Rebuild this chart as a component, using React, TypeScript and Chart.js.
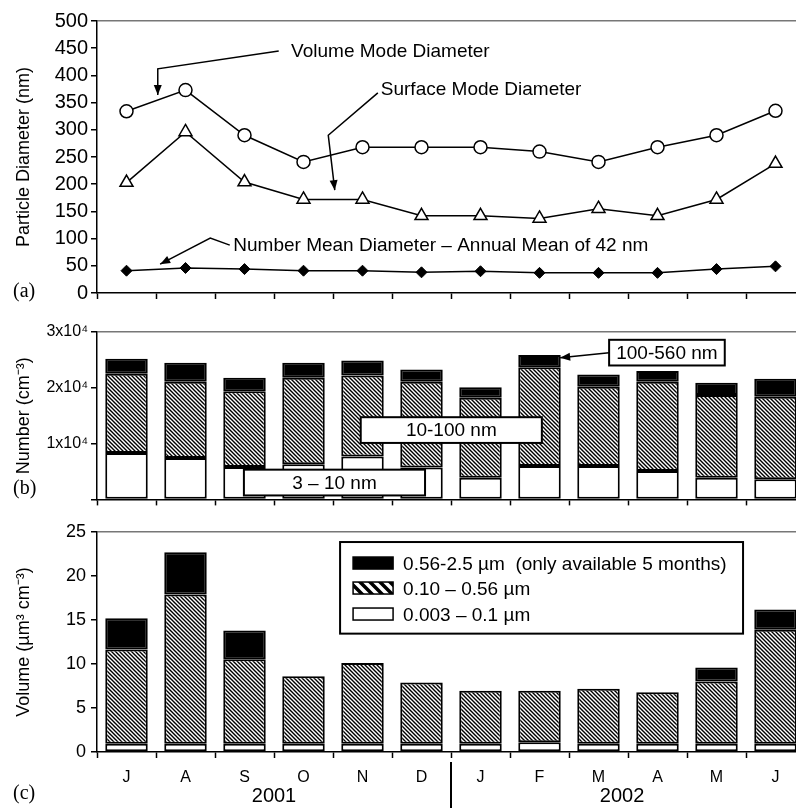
import React, { useEffect, useRef } from 'react';
import { Chart, registerables } from 'chart.js';

Chart.register(...registerables);

const SANS = "'Liberation Sans', Arial, Helvetica, sans-serif";
const SERIF = "'Liberation Serif', 'Times New Roman', serif";

// ---- data ----
const months = ['J', 'A', 'S', 'O', 'N', 'D', 'J', 'F', 'M', 'A', 'M', 'J'];
const years = ['2001', '2002'];

const volumeModeDiameter = [334, 373, 290, 241, 268, 268, 268, 260, 241, 268, 290, 335];
const surfaceModeDiameter = [203, 296, 204, 172, 172, 142, 142, 137, 155, 142, 172, 238];
const numberMeanDiameter = [41, 46, 44, 41, 41, 38, 40, 37, 37, 37, 44, 49];

const number3to10 = [8300, 7400, 5800, 6300, 7700, 5700, 3900, 6000, 6000, 5100, 3900, 3600];
const number10to100 = [14200, 13700, 13600, 15500, 14500, 15400, 14300, 17700, 14200, 16000, 14800, 14800];
const number100to560 = [2700, 3400, 2400, 2700, 2700, 2200, 1900, 2200, 2200, 1900, 2200, 3200];
const numberTickLabels = ['', '1x10⁴', '2x10⁴', '3x10⁴'];

const volume003to01 = [0.95, 0.95, 0.95, 0.95, 0.95, 0.95, 0.95, 1.1, 0.95, 0.95, 0.95, 0.95];
const volume010to056 = [10.7, 16.95, 9.6, 7.65, 9.15, 6.95, 6.0, 5.85, 6.25, 5.85, 7.05, 12.95];
const volume056to25 = [3.55, 4.8, 3.25, null, null, null, null, null, null, null, 1.6, 2.3];

const legendLabels = ['0.56-2.5 µm  (only available 5 months)', '0.10 – 0.56 µm', '0.003 – 0.1 µm'];

// ---- helpers ----
function makeHatch(period: number, lw: number): CanvasPattern {
  const c = document.createElement('canvas');
  c.width = period;
  c.height = period;
  const g = c.getContext('2d')!;
  g.fillStyle = '#fff';
  g.fillRect(0, 0, period, period);
  g.strokeStyle = '#000';
  g.lineWidth = lw;
  g.beginPath();
  for (const o of [-period, 0, period]) {
    g.moveTo(o - 2, -2);
    g.lineTo(o + period + 2, period + 2);
  }
  g.stroke();
  return g.createPattern(c, 'repeat')!;
}

function arrow(ctx: CanvasRenderingContext2D, pts: number[][], head = 10, w = 4) {
  ctx.lineWidth = 1.5;
  ctx.beginPath();
  ctx.moveTo(pts[0][0], pts[0][1]);
  for (let i = 1; i < pts.length; i++) ctx.lineTo(pts[i][0], pts[i][1]);
  ctx.stroke();
  const [x1, y1] = pts[pts.length - 2];
  const [x2, y2] = pts[pts.length - 1];
  const a = Math.atan2(y2 - y1, x2 - x1);
  ctx.beginPath();
  ctx.moveTo(x2, y2);
  ctx.lineTo(x2 - head * Math.cos(a) + w * Math.sin(a), y2 - head * Math.sin(a) - w * Math.cos(a));
  ctx.lineTo(x2 - head * Math.cos(a) - w * Math.sin(a), y2 - head * Math.sin(a) + w * Math.cos(a));
  ctx.closePath();
  ctx.fill();
}

function labelBox(ctx: CanvasRenderingContext2D, l: number, t: number, r: number, b: number, text: string) {
  ctx.fillStyle = '#fff';
  ctx.fillRect(l, t, r - l, b - t);
  ctx.lineWidth = 2;
  ctx.strokeStyle = '#000';
  ctx.strokeRect(l, t, r - l, b - t);
  ctx.fillStyle = '#000';
  ctx.font = `19px ${SANS}`;
  ctx.textAlign = 'center';
  ctx.textBaseline = 'middle';
  ctx.fillText(text, (l + r) / 2, (t + b) / 2 + 1);
}

const W = 820;
const PLOT_RIGHT_PAD = 15;
const Y_AXIS_WIDTH = 97;

function yScaleBase(max: number, step: number, fontSize: number, pad: number, title: string) {
  return {
    min: 0,
    max,
    afterFit: (s: any) => {
      s.width = Y_AXIS_WIDTH;
    },
    border: { color: '#000', width: 1.5 },
    grid: {
      drawOnChartArea: true,
      color: (c: any) => (c.tick && c.tick.value === max ? '#777' : 'rgba(0,0,0,0)'),
      lineWidth: 1.5,
      tickColor: '#000',
      tickWidth: 1.5,
      tickLength: 6,
    },
    ticks: { stepSize: step, color: '#000', font: { size: fontSize, family: SANS }, padding: pad },
    title: {
      display: true,
      text: title,
      color: '#000',
      font: { size: 18, family: SANS },
      padding: { top: 13, bottom: 0 },
    },
  };
}

function xScaleBase(height: number, showLabels: boolean) {
  return {
    type: 'category' as const,
    offset: true,
    stacked: true,
    afterFit: (s: any) => {
      s.height = height;
    },
    border: { color: '#000', width: 1.5 },
    grid: {
      offset: true,
      drawOnChartArea: false,
      drawTicks: true,
      tickLength: 6,
      tickColor: '#000',
      tickWidth: 1.5,
    },
    ticks: {
      display: showLabels,
      color: '#000',
      font: { size: 16, family: SANS },
      padding: 10,
      autoSkip: false,
      maxRotation: 0,
    },
  };
}

// ---- panel configs ----
function configA(): any {
  const annot = {
    id: 'annotA',
    afterDraw(chart: any) {
      const { ctx } = chart;
      const x = chart.scales.x;
      const y = chart.scales.y;
      const P = (i: number, v: number) => [x.getPixelForValue(i), y.getPixelForValue(v)];
      ctx.save();
      ctx.fillStyle = '#000';
      ctx.strokeStyle = '#000';
      ctx.font = `19px ${SANS}`;
      ctx.textAlign = 'left';
      ctx.textBaseline = 'middle';
      let p = P(2.79, 444);
      ctx.fillText('Volume Mode Diameter', p[0], p[1]);
      arrow(ctx, [P(2.58, 445), P(0.53, 412), P(0.53, 364)]);
      p = P(4.31, 373);
      ctx.fillText('Surface Mode Diameter', p[0], p[1]);
      arrow(ctx, [P(4.26, 368), P(3.42, 290), P(3.53, 189)]);
      p = P(1.81, 86);
      ctx.fillText('Number Mean Diameter – Annual Mean of 42 nm', p[0], p[1]);
      arrow(ctx, [P(1.75, 88), P(1.42, 101), P(0.57, 53)]);
      ctx.font = `20px ${SERIF}`;
      ctx.fillText('(a)', 13, y.getPixelForValue(0) - 1);
      ctx.restore();
    },
  };
  return {
    type: 'line',
    data: {
      labels: months,
      datasets: [
        {
          label: 'Volume Mode Diameter',
          data: volumeModeDiameter,
          borderColor: '#000',
          borderWidth: 1.5,
          tension: 0,
          pointStyle: 'circle',
          pointRadius: 6.5,
          pointBackgroundColor: '#fff',
          pointBorderColor: '#000',
          pointBorderWidth: 1.5,
        },
        {
          label: 'Surface Mode Diameter',
          data: surfaceModeDiameter,
          borderColor: '#000',
          borderWidth: 1.5,
          tension: 0,
          pointStyle: 'triangle',
          pointRadius: 7.5,
          pointBackgroundColor: '#fff',
          pointBorderColor: '#000',
          pointBorderWidth: 1.5,
        },
        {
          label: 'Number Mean Diameter',
          data: numberMeanDiameter,
          borderColor: '#000',
          borderWidth: 1.5,
          tension: 0,
          pointStyle: 'rectRot',
          pointRadius: 5.5,
          pointBackgroundColor: '#000',
          pointBorderColor: '#000',
          pointBorderWidth: 1,
        },
      ],
    },
    options: {
      responsive: false,
      animation: false,
      devicePixelRatio: 1,
      layout: { padding: { left: 0, right: PLOT_RIGHT_PAD, top: 21, bottom: 9 } },
      plugins: { legend: { display: false }, tooltip: { enabled: false } },
      scales: {
        x: { ...xScaleBase(10, false), stacked: false },
        y: yScaleBase(500, 50, 20, 3, 'Particle Diameter (nm)'),
      },
    },
    plugins: [annot],
  };
}

function configB(hatch: CanvasPattern): any {
  const annot = {
    id: 'annotB',
    afterDraw(chart: any) {
      const { ctx } = chart;
      const x = chart.scales.x;
      const y = chart.scales.y;
      const X = (i: number) => x.getPixelForValue(i);
      const Y = (v: number) => y.getPixelForValue(v);
      ctx.save();
      ctx.fillStyle = '#000';
      ctx.strokeStyle = '#000';
      arrow(ctx, [[X(8.18), Y(26300)], [X(7.35), Y(25400)]]);
      labelBox(ctx, X(8.18), Y(28600), X(10.14), Y(24000), '100-560 nm');
      labelBox(ctx, X(3.97), Y(14730), X(7.04), Y(10120), '10-100 nm');
      labelBox(ctx, X(1.99), Y(5330), X(5.06), Y(710), '3 – 10 nm');
      ctx.fillStyle = '#000';
      ctx.font = `20px ${SERIF}`;
      ctx.textAlign = 'left';
      ctx.textBaseline = 'middle';
      ctx.fillText('(b)', 13, Y(0) - 11);
      ctx.restore();
    },
  };
  const bar = { borderColor: '#000', borderWidth: 2, borderSkipped: false, barPercentage: 0.72, categoryPercentage: 1 };
  return {
    type: 'bar',
    data: {
      labels: months,
      datasets: [
        { label: '3 – 10 nm', data: number3to10, backgroundColor: '#fff', ...bar },
        { label: '10-100 nm', data: number10to100, backgroundColor: hatch, ...bar },
        { label: '100-560 nm', data: number100to560, backgroundColor: '#000', ...bar },
      ],
    },
    options: {
      responsive: false,
      animation: false,
      devicePixelRatio: 1,
      layout: { padding: { left: 0, right: PLOT_RIGHT_PAD, top: 20, bottom: 1 } },
      plugins: { legend: { display: false }, tooltip: { enabled: false } },
      scales: {
        x: xScaleBase(10, false),
        y: {
          ...yScaleBase(30000, 10000, 16, 3, 'Number (cm⁻³)'),
          stacked: true,
          ticks: {
            stepSize: 10000,
            color: '#000',
            font: { size: 16, family: SANS },
            padding: 3,
            callback: (v: any) => numberTickLabels[Math.round(Number(v) / 10000)],
          },
        },
      },
    },
    plugins: [annot],
  };
}

function configC(hatch: CanvasPattern, legendHatch: CanvasPattern): any {
  const annot = {
    id: 'annotC',
    afterDraw(chart: any) {
      const { ctx, chartArea } = chart;
      const x = chart.scales.x;
      const y = chart.scales.y;
      const X = (i: number) => x.getPixelForValue(i);
      const Y = (v: number) => y.getPixelForValue(v);
      ctx.save();
      // legend box
      const L = X(3.62), T = Y(23.86), R = X(10.45), B = Y(13.45);
      ctx.fillStyle = '#fff';
      ctx.fillRect(L, T, R - L, B - T);
      ctx.lineWidth = 2;
      ctx.strokeStyle = '#000';
      ctx.strokeRect(L, T, R - L, B - T);
      const fills: any[] = ['#000', legendHatch, '#fff'];
      const rows = [21, 46, 72];
      ctx.font = `19px ${SANS}`;
      ctx.textAlign = 'left';
      ctx.textBaseline = 'middle';
      rows.forEach((r, k) => {
        const sy = T + r;
        ctx.fillStyle = fills[k];
        ctx.fillRect(L + 13, sy - 6, 40, 12);
        ctx.lineWidth = 1.5;
        ctx.strokeStyle = '#000';
        ctx.strokeRect(L + 13, sy - 6, 40, 12);
        ctx.fillStyle = '#000';
        ctx.fillText(legendLabels[k], L + 63, sy + 2);
      });
      // years
      ctx.font = `20px ${SANS}`;
      ctx.textAlign = 'center';
      ctx.fillText(years[0], X(2.5), chartArea.bottom + 44);
      ctx.fillText(years[1], X(8.4), chartArea.bottom + 44);
      // separator
      ctx.lineWidth = 2;
      ctx.beginPath();
      ctx.moveTo(X(5.5), chartArea.bottom + 10);
      ctx.lineTo(X(5.5), chart.height);
      ctx.stroke();
      ctx.font = `20px ${SERIF}`;
      ctx.textAlign = 'left';
      ctx.fillText('(c)', 13, chartArea.bottom + 42);
      ctx.restore();
    },
  };
  const bar = { borderColor: '#000', borderWidth: 2, borderSkipped: false, barPercentage: 0.72, categoryPercentage: 1 };
  return {
    type: 'bar',
    data: {
      labels: months,
      datasets: [
        { label: legendLabels[2], data: volume003to01, backgroundColor: '#fff', ...bar },
        { label: legendLabels[1], data: volume010to056, backgroundColor: hatch, ...bar },
        { label: legendLabels[0], data: volume056to25, backgroundColor: '#000', ...bar },
      ],
    },
    options: {
      responsive: false,
      animation: false,
      devicePixelRatio: 1,
      layout: { padding: { left: 0, right: PLOT_RIGHT_PAD, top: 20, bottom: 0 } },
      plugins: { legend: { display: false }, tooltip: { enabled: false } },
      scales: {
        x: xScaleBase(56, true),
        y: { ...yScaleBase(25, 5, 18, 5, 'Volume (µm³ cm⁻³)'), stacked: true },
      },
    },
    plugins: [annot],
  };
}

function Panel({ top, height, make }: { top: number; height: number; make: () => any }) {
  const ref = useRef<HTMLCanvasElement>(null);
  useEffect(() => {
    const chart = new Chart(ref.current!, make());
    return () => chart.destroy();
  }, []);
  return (
    <canvas
      ref={ref}
      width={W}
      height={height}
      style={{ position: 'absolute', left: 0, top, width: W, height, display: 'block' }}
    />
  );
}

export default function App() {
  const hatch = makeHatch(4, 1.4);
  const legendHatch = makeHatch(10, 3.5);
  return (
    <div
      style={{
        position: 'absolute',
        left: 0,
        top: 0,
        width: 796,
        height: 808,
        overflow: 'hidden',
        background: '#fff',
      }}
    >
      <Panel top={0} height={312} make={configA} />
      <Panel top={312} height={200} make={() => configB(hatch)} />
      <Panel top={512} height={296} make={() => configC(hatch, legendHatch)} />
    </div>
  );
}
